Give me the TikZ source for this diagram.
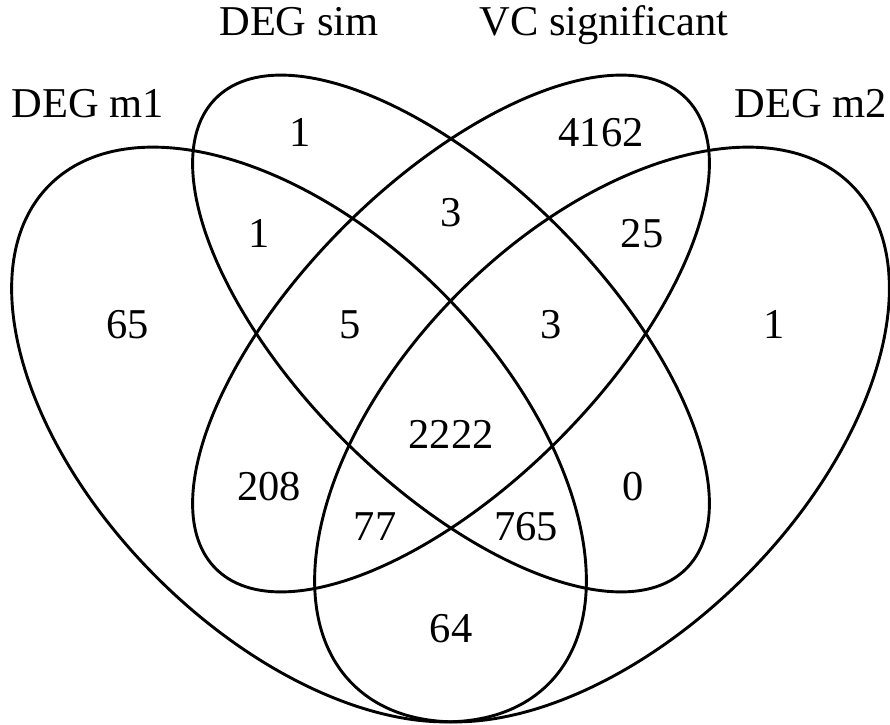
\documentclass[tikz,border=0pt]{standalone}
\usepackage{fontspec}
\setmainfont{Liberation Serif}
\begin{document}
\begin{tikzpicture}[x=1pt,y=1pt,
  venn/.style={draw=black, line width=2.9pt},
  num/.style={anchor=base, inner sep=0pt, font=\fontsize{42.5}{50}\selectfont},
  setlabel/.style={num}]
\useasboundingbox (0,0) rectangle (890,724);
% ellipses
\draw[venn, rotate around={-45:(299,289.5)}] (299,289.5) ellipse [x radius=352.8pt, y radius=201.6pt];
\draw[venn, rotate around={45:(602,289.5)}] (602,289.5) ellipse [x radius=352.8pt, y radius=201.6pt];
\draw[venn, rotate around={-45:(451,390.5)}] (451,390.5) ellipse [x radius=332.6pt, y radius=151.2pt];
\draw[venn, rotate around={45:(451,390.5)}] (451,390.5) ellipse [x radius=332.6pt, y radius=151.2pt];
% set labels
\node[setlabel] (lsim) at (299,688) {DEG sim};
\node[setlabel] (lvc) at (604,688) {VC significant};
\node[setlabel] (lm1) at (88,606) {DEG m1};
\node[setlabel] (lm2) at (811,606) {DEG m2};
% counts
\node[num] (c1) at (300,577) {1};
\node[num] (c2) at (601,577) {4162};
\node[num] (c3) at (451,497) {3};
\node[num] (c4) at (259,476) {1};
\node[num] (c5) at (642,476) {25};
\node[num] (c6) at (127.5,386) {65};
\node[num] (c7) at (350,386) {5};
\node[num] (c8) at (551,386) {3};
\node[num] (c9) at (774,386) {1};
\node[num] (c10) at (451,276) {2222};
\node[num] (c11) at (269,224) {208};
\node[num] (c12) at (633,224) {0};
\node[num] (c13) at (375,184) {77};
\node[num] (c14) at (526,184) {765};
\node[num] (c15) at (451,82) {64};
\end{tikzpicture}
\end{document}
